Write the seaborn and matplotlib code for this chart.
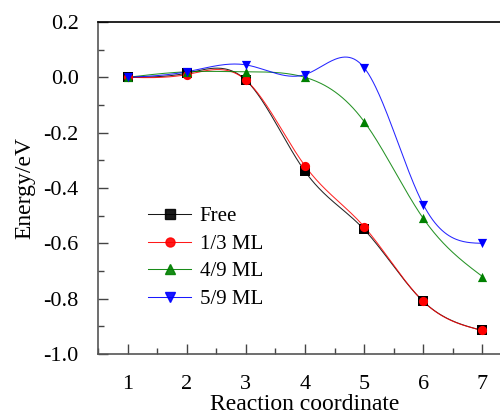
import numpy as np
import pandas as pd
import matplotlib
matplotlib.use("Agg")
import matplotlib.pyplot as plt
from matplotlib.lines import Line2D
from matplotlib.ticker import MultipleLocator
import seaborn as sns

steps = [1, 2, 3, 4, 5, 6, 7]
series_names = ["Free", "1/3 ML", "4/9 ML", "5/9 ML"]
free = [0.0, 0.015, -0.01, -0.34, -0.55, -0.81, -0.915]
ml13 = [0.0, 0.01, -0.01, -0.32, -0.54, -0.81, -0.915]
ml49 = [0.0, 0.02, 0.02, 0.0, -0.16, -0.51, -0.72]
ml59 = [0.0, 0.02, 0.045, 0.01, 0.035, -0.46, -0.60]
colors = ["black", "red", "green", "blue"]
markers = ["s", "o", "^", "v"]


def natural_spline(x, y, n=300):
    x = np.asarray(x, float)
    y = np.asarray(y, float)
    k = len(x)
    h = np.diff(x)
    A = np.zeros((k, k))
    b = np.zeros(k)
    A[0, 0] = 1
    A[-1, -1] = 1
    for i in range(1, k - 1):
        A[i, i - 1] = h[i - 1]
        A[i, i] = 2 * (h[i - 1] + h[i])
        A[i, i + 1] = h[i]
        b[i] = 6 * ((y[i + 1] - y[i]) / h[i] - (y[i] - y[i - 1]) / h[i - 1])
    M = np.linalg.solve(A, b)
    xs = np.linspace(x[0], x[-1], n)
    ys = np.empty_like(xs)
    for j, xv in enumerate(xs):
        i = min(np.searchsorted(x, xv, side="right") - 1, k - 2)
        t1 = x[i + 1] - xv
        t0 = xv - x[i]
        hi = h[i]
        ys[j] = (M[i] * t1 ** 3 / (6 * hi) + M[i + 1] * t0 ** 3 / (6 * hi)
                 + (y[i] / hi - M[i] * hi / 6) * t1
                 + (y[i + 1] / hi - M[i + 1] * hi / 6) * t0)
    return xs, ys


plt.rcParams["font.family"] = ["Liberation Serif", "DejaVu Serif"]
fig = plt.figure(figsize=(5.0, 4.15), dpi=100)
ax = fig.add_axes([98 / 500, 61 / 415, 414 / 500, 332 / 415])

all_vals = [free, ml13, ml49, ml59]
curve_rows = []
point_rows = []
for name, vals in zip(series_names, all_vals):
    xs, ys = natural_spline(steps, vals)
    for a, b in zip(xs, ys):
        curve_rows.append({"x": a, "y": b, "series": name})
    for a, b in zip(steps, vals):
        point_rows.append({"x": a, "y": b, "series": name})
curves = pd.DataFrame(curve_rows)
points = pd.DataFrame(point_rows)
pal = dict(zip(series_names, colors))
mk = dict(zip(series_names, markers))

sns.lineplot(data=curves, x="x", y="y", hue="series", palette=pal,
             linewidth=0.75, alpha=0.85, ax=ax, legend=False, sort=False,
             estimator=None)
for name in series_names:
    sub = points[points["series"] == name]
    sns.scatterplot(data=sub, x="x", y="y", color=pal[name], marker=mk[name],
                    s=44, edgecolor=pal[name], linewidth=0, ax=ax, legend=False,
                    zorder=3)

ax.set_xlim(0.5, 7.5)
ax.set_ylim(-1.0, 0.2)
ax.xaxis.set_major_locator(MultipleLocator(1))
ax.xaxis.set_minor_locator(MultipleLocator(0.5))
ax.yaxis.set_major_locator(MultipleLocator(0.2))
ax.yaxis.set_minor_locator(MultipleLocator(0.1))
ax.yaxis.set_major_formatter(matplotlib.ticker.FormatStrFormatter("%.1f"))
ax.tick_params(which="major", direction="in", length=7, width=1, color="#444444",
               labelsize=16, pad=14)
ax.tick_params(which="minor", direction="in", length=4, width=1, color="#444444")
ax.tick_params(axis="x", pad=15)
for s in ["left", "bottom"]:
    ax.spines[s].set_color("#555555")
    ax.spines[s].set_linewidth(1.2)
ax.spines["top"].set_color("black")
ax.spines["top"].set_linewidth(1.2)
ax.spines["right"].set_visible(False)

ax.set_xlabel("Reaction coordinate", fontsize=17, labelpad=0)
ax.set_ylabel("Energy/eV", fontsize=17, labelpad=6)

handles = [Line2D([0], [0], color=c, marker=m, markersize=6.5, linewidth=0.75,
                  alpha=0.9)
           for c, m in zip(colors, markers)]
ax.legend(handles, series_names, loc="upper left", bbox_to_anchor=(0.095, 0.475),
          frameon=False, fontsize=15, handlelength=2.1, handletextpad=0.4,
          labelspacing=0.38, borderpad=0)

fig.savefig("out.png", dpi=100)
